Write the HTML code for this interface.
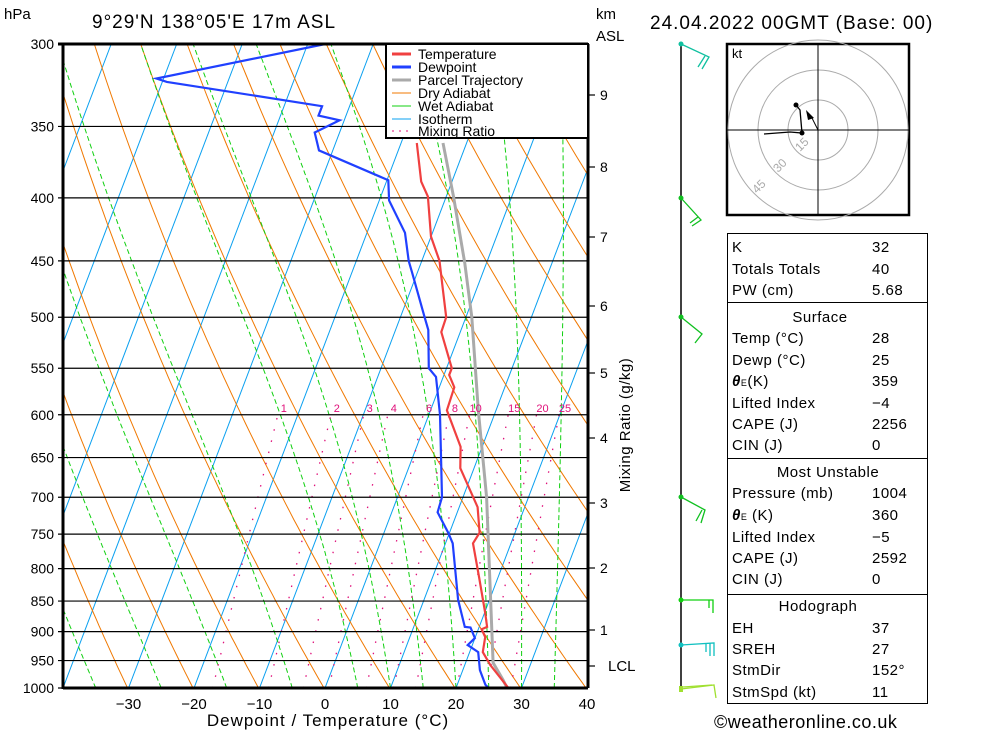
<!DOCTYPE html>
<html><head><meta charset="utf-8">
<style>
html,body{margin:0;padding:0;background:#fff;}
body{width:1000px;height:733px;overflow:hidden;position:relative;font-family:"Liberation Sans",sans-serif;}
svg{position:absolute;left:0;top:0;}
text{font-family:"Liberation Sans",sans-serif;}
</style></head>
<body>
<svg id="chart" width="1000" height="733" viewBox="0 0 1000 733">
<defs><clipPath id="plotclip"><rect x="63" y="44" width="525" height="644"/></clipPath></defs>
<g id="bg" clip-path="url(#plotclip)"></g>
<g id="grid"></g>
<g id="profiles" clip-path="url(#plotclip)"></g>
<g id="axes"></g>
</svg>
<script>
// ---- Data ----
const pressureLevels = [300,350,400,450,500,550,600,650,700,750,800,850,900,950,1000];
const tempTicks = [-30,-20,-10,0,10,20,30,40];
const kmTicks = [9,8,7,6,5,4,3,2,1];
const kmY = [95,167,237,306,373,438,503,568,630];
const mixRatios = [1,2,3,4,6,8,10,15,20,25];
const wetBulbThetas = [-35,-25,-15,-5,5,10,15,20,25,30,35];
const tempP = [361,388,399,430,450,475,500,514,550,557,570,595,637,663,713,748,763,813,869,892,896,909,935,958,1000];
const tempT = [-17.6,-14.7,-12.8,-10.0,-7.3,-5.1,-3.0,-2.9,0.8,0.8,2.3,2.5,6.7,7.9,12.8,14.6,14.2,17.1,20.1,21.2,20.5,21.5,22.0,23.9,28];
const dewP = [300,320,322,337,343,346,354,366,387,402,427,450,460,500,512,550,559,600,700,720,748,763,848,892,893,911,923,935,967,994,1000];
const dewT = [-37.3,-61.1,-59.3,-34.2,-34.2,-30.7,-33.8,-32.1,-19.8,-18.5,-14.2,-12.0,-10.8,-6.3,-5.0,-2.7,-1.1,1.7,6.8,7.0,9.8,11.1,15.2,17.8,18.7,20.0,19.3,21.3,22.6,24.3,25];
const parcelP = [361,399,452,500,595,700,954,985,1000];
const parcelT = [-13.6,-8.9,-3.3,0.9,7.3,13.6,24.2,26.7,27.8];

// ---- Axis functions ----
const Y0=44,Y1=688,X0=63,X1=588;
function yP(p){return Y0+(Y1-Y0)*Math.log(p/300)/Math.log(1000/300);}
function xT(t,p){return 325+6.55*t+0.38*(Y1-yP(p));}
const NS='http://www.w3.org/2000/svg';
function mk(tag,attrs,parent){const e=document.createElementNS(NS,tag);for(const k in attrs)e.setAttribute(k,attrs[k]);parent.appendChild(e);return e;}
function pts(ps,ts){return ps.map((p,i)=>xT(ts[i],p).toFixed(1)+','+yP(p).toFixed(1)).join(' ');}
const bg=document.getElementById('bg'),grid=document.getElementById('grid'),prof=document.getElementById('profiles'),axes=document.getElementById('axes');

// isotherms
for(let t=-120;t<=40;t+=10){
  const l=mk('line',{x1:xT(t,1000),y1:Y1,x2:xT(t,300),y2:Y0,stroke:'#0aa0f0','stroke-width':1},bg);
  
  
}
// dry adiabats
for(let th=223;th<=473;th+=10){
  const ps=[],ts=[];
  for(let p=1000;p>=300;p-=10){ps.push(p);ts.push(th*Math.pow(p/1000,0.286)-273.15);}
  const l=mk('polyline',{points:pts(ps,ts),fill:'none',stroke:'#f07800','stroke-width':1},bg);
  
  
}
// moist adiabats
function es(tc){return 6.112*Math.exp(17.67*tc/(tc+243.5));}
wetBulbThetas.forEach(tw=>{
  let T=tw+273.15;const ps=[],ts=[];
  for(let p=1000;p>=300;p-=2){
    ps.push(p);ts.push(T-273.15);
    const e=es(T-273.15),rs=0.622*e/(p-e),Lv=2.5e6,Rd=287,cp=1004;
    const dTdp=(Rd*T+Lv*rs)/(p*(cp+Lv*Lv*rs*0.622/(Rd*T*T)));
    T-=dTdp*2;
  }
  const l=mk('polyline',{points:pts(ps,ts),fill:'none',stroke:'#10d010','stroke-width':1,'stroke-dasharray':'5,3'},bg);
  
  
});
// mixing ratio lines
mixRatios.forEach(w=>{
  const ps=[],ts=[];
  for(let p=1000;p>=600;p-=10){const e=w*p/(622+w);const a=Math.log(e/6.112);ps.push(p);ts.push(243.5*a/(17.67-a));}
  const l=mk('polyline',{points:pts(ps,ts),fill:'none',stroke:'#e0107a','stroke-width':1.3,'stroke-dasharray':'1.5,10'},bg);
  
  
  const a=Math.log((w*600/(622+w))/6.112);const t6=243.5*a/(17.67-a);
  const tx=mk('text',{x:xT(t6,600)+6,y:yP(600)-3,'font-size':11,fill:'#e0107a','text-anchor':'middle'},axes);
  tx.textContent=w;
  
  
});
// pressure grid
pressureLevels.forEach(p=>{
  const y=yP(p);
  const l=mk('line',{x1:X0-5,y1:y,x2:X1,y2:y,stroke:'#000','stroke-width':1.2},grid);
  
  
  const t=mk('text',{x:54,y:y+5,'font-size':14,'text-anchor':'end',fill:'#000'},axes);
  t.textContent=p;
  
  
});
// profiles
const lp=mk('polyline',{points:pts(parcelP,parcelT),fill:'none',stroke:'#aaa','stroke-width':3},prof);


const ld=mk('polyline',{points:pts(dewP,dewT),fill:'none',stroke:'#2040ff','stroke-width':2.2},prof);


const lt=mk('polyline',{points:pts(tempP,tempT),fill:'none',stroke:'#f04040','stroke-width':2.2},prof);


// frame
mk('line',{x1:X0,y1:Y0,x2:X0,y2:Y1+1,stroke:'#000','stroke-width':3},axes);
mk('line',{x1:X0-5,y1:Y0,x2:X1,y2:Y0,stroke:'#000','stroke-width':3},axes);
mk('line',{x1:X0,y1:Y1,x2:X1,y2:Y1,stroke:'#000','stroke-width':3},axes);
mk('line',{x1:X1,y1:Y0,x2:X1,y2:Y1,stroke:'#000','stroke-width':3},axes);
tempTicks.forEach(t=>{
  const tx=mk('text',{x:xT(t,1000),y:709,'font-size':15,'text-anchor':'middle',fill:'#000'},axes);
  tx.textContent=t<0?'\u2212'+(-t):t;
  
  
});
kmTicks.forEach((k,i)=>{
  mk('line',{x1:X1,y1:kmY[i],x2:X1+7,y2:kmY[i],stroke:'#000','stroke-width':1.2},axes);
  const tx=mk('text',{x:600,y:kmY[i]+5,'font-size':14,fill:'#000'},axes);
  tx.textContent=k;
  
  
});
mk('line',{x1:X1,y1:666,x2:X1+7,y2:666,stroke:'#000','stroke-width':1.2},axes);
</script>
<svg width="1000" height="733" style="pointer-events:none">
<text x="4" y="19" font-size="15">hPa</text>
<text x="92" y="28" font-size="19" letter-spacing="1">9°29'N  138°05'E  17m  ASL</text>
<text x="596" y="19" font-size="15">km</text>
<text x="596" y="41" font-size="15">ASL</text>
<text x="650" y="29" font-size="19" letter-spacing="1">24.04.2022 00GMT (Base: 00)</text>
<text x="608" y="671" font-size="15">LCL</text>
<text transform="translate(630,425) rotate(-90)" font-size="15" text-anchor="middle" letter-spacing="0.5">Mixing Ratio (g/kg)</text>
<text x="328" y="726" font-size="17" text-anchor="middle" letter-spacing="1">Dewpoint / Temperature (°C)</text>
<text x="714" y="728" font-size="18" letter-spacing="0.5">©weatheronline.co.uk</text>
<g>
<rect x="386" y="44" width="202" height="94" fill="#fff" stroke="#000" stroke-width="2"/>
<g font-size="14">
<line x1="392" y1="54" x2="411" y2="54" stroke="#f04040" stroke-width="3"/><text x="418" y="59">Temperature</text>
<line x1="392" y1="67" x2="411" y2="67" stroke="#2040ff" stroke-width="3"/><text x="418" y="72">Dewpoint</text>
<line x1="392" y1="80" x2="411" y2="80" stroke="#aaa" stroke-width="3"/><text x="418" y="85">Parcel Trajectory</text>
<line x1="392" y1="93" x2="411" y2="93" stroke="#f07800"/><text x="418" y="98">Dry Adiabat</text>
<line x1="392" y1="106" x2="411" y2="106" stroke="#10d010"/><text x="418" y="111">Wet Adiabat</text>
<line x1="392" y1="119" x2="411" y2="119" stroke="#0aa0f0"/><text x="418" y="124">Isotherm</text>
<line x1="392" y1="131" x2="411" y2="131" stroke="#e0107a" stroke-dasharray="2,5"/><text x="418" y="136">Mixing Ratio</text>
</g></g>
<g>
<line x1="681" y1="44" x2="681" y2="690" stroke="#000" stroke-width="1.5"/>
<g fill="none" stroke-width="1.3">
<circle cx="681" cy="44" r="2.5" fill="#10c0a0" stroke="none"/><polyline points="681,44 709,57 702,69" stroke="#10c0a0"/><line x1="705" y1="56" x2="698" y2="67" stroke="#10c0a0"/>
<circle cx="681" cy="198" r="2.5" fill="#10c020" stroke="none"/><polyline points="681,198 701,220 692,226" stroke="#10c020"/><line x1="698" y1="217" x2="690" y2="223" stroke="#10c020"/>
<circle cx="681" cy="317" r="2.5" fill="#10c020" stroke="none"/><polyline points="681,317 702,334 695,343" stroke="#10c020"/>
<circle cx="681" cy="497" r="2.5" fill="#10c020" stroke="none"/><polyline points="681,497 705,510 701,523" stroke="#10c020"/><line x1="702" y1="510" x2="696" y2="521" stroke="#10c020"/>
<circle cx="681" cy="600" r="2.5" fill="#10d010" stroke="none"/><polyline points="681,600 713,600 713,613" stroke="#10d010"/><line x1="709" y1="600" x2="709" y2="608" stroke="#10d010"/>
<circle cx="681" cy="645" r="2.5" fill="#10c0c0" stroke="none"/><polyline points="681,645 714,643 714,656" stroke="#10c0c0"/><line x1="710" y1="643" x2="710" y2="656" stroke="#10c0c0"/><line x1="706" y1="644" x2="706" y2="652" stroke="#10c0c0"/>
<rect x="679" y="686" width="4" height="6" fill="#a0e030" stroke="none"/><polyline points="681,689 714,685 716,698" stroke="#a0e030"/><line x1="683" y1="687" x2="712" y2="685" stroke="#a0e030"/>
</g></g>
<g>
<rect x="727" y="44" width="182" height="171" fill="#fff" stroke="#000" stroke-width="2.5"/>
<text x="732" y="58" font-size="13">kt</text>
<g fill="none" stroke="#aaa" stroke-width="1">
<circle cx="818" cy="130" r="30"/><circle cx="818" cy="130" r="60"/><circle cx="818" cy="130" r="90"/>
</g>
<line x1="727" y1="130" x2="909" y2="130" stroke="#000"/><line x1="818" y1="44" x2="818" y2="215" stroke="#000"/>
<text x="800" y="152" font-size="12" fill="#aaa" transform="rotate(-45 800 152)">15</text>
<text x="778" y="173" font-size="12" fill="#aaa" transform="rotate(-45 778 173)">30</text>
<text x="757" y="194" font-size="12" fill="#aaa" transform="rotate(-45 757 194)">45</text>
<polyline points="764,134 790,132 802,133 800,110 796,105" fill="none" stroke="#000" stroke-width="1.3"/>
<circle cx="796" cy="105" r="2.5"/><circle cx="802" cy="133" r="2.5"/>
<polyline points="818,130 812,118 808,114" fill="none" stroke="#000"/><polygon points="806,110 814,118 808,120"/>
</g>
<g font-size="15" letter-spacing="0.5">
<rect x="727.5" y="233.5" width="200" height="69" fill="none" stroke="#000"/>
<rect x="727.5" y="302.5" width="200" height="156" fill="none" stroke="#000"/>
<rect x="727.5" y="458.5" width="200" height="136" fill="none" stroke="#000"/>
<rect x="727.5" y="594.5" width="200" height="109" fill="none" stroke="#000"/>
<text x="732" y="252">K</text><text x="872" y="252">32</text>
<text x="732" y="274">Totals Totals</text><text x="872" y="274">40</text>
<text x="732" y="295">PW (cm)</text><text x="872" y="295">5.68</text>
<text x="820" y="322" text-anchor="middle">Surface</text>
<text x="732" y="343">Temp (°C)</text><text x="872" y="343">28</text>
<text x="732" y="365">Dewp (°C)</text><text x="872" y="365">25</text>
<text x="732" y="386"><tspan font-style="italic" font-weight="bold">θ</tspan><tspan font-size="9">E</tspan>(K)</text><text x="872" y="386">359</text>
<text x="732" y="408">Lifted Index</text><text x="872" y="408">−4</text>
<text x="732" y="429">CAPE (J)</text><text x="872" y="429">2256</text>
<text x="732" y="450">CIN (J)</text><text x="872" y="450">0</text>
<text x="828" y="477" text-anchor="middle">Most Unstable</text>
<text x="732" y="498">Pressure (mb)</text><text x="872" y="498">1004</text>
<text x="732" y="520"><tspan font-style="italic" font-weight="bold">θ</tspan><tspan font-size="9">E</tspan> (K)</text><text x="872" y="520">360</text>
<text x="732" y="542">Lifted Index</text><text x="872" y="542">−5</text>
<text x="732" y="563">CAPE (J)</text><text x="872" y="563">2592</text>
<text x="732" y="584">CIN (J)</text><text x="872" y="584">0</text>
<text x="818" y="611" text-anchor="middle">Hodograph</text>
<text x="732" y="633">EH</text><text x="872" y="633">37</text>
<text x="732" y="654">SREH</text><text x="872" y="654">27</text>
<text x="732" y="675">StmDir</text><text x="872" y="675">152°</text>
<text x="732" y="697">StmSpd (kt)</text><text x="872" y="697">11</text>
</g>
</svg>
</body></html>
